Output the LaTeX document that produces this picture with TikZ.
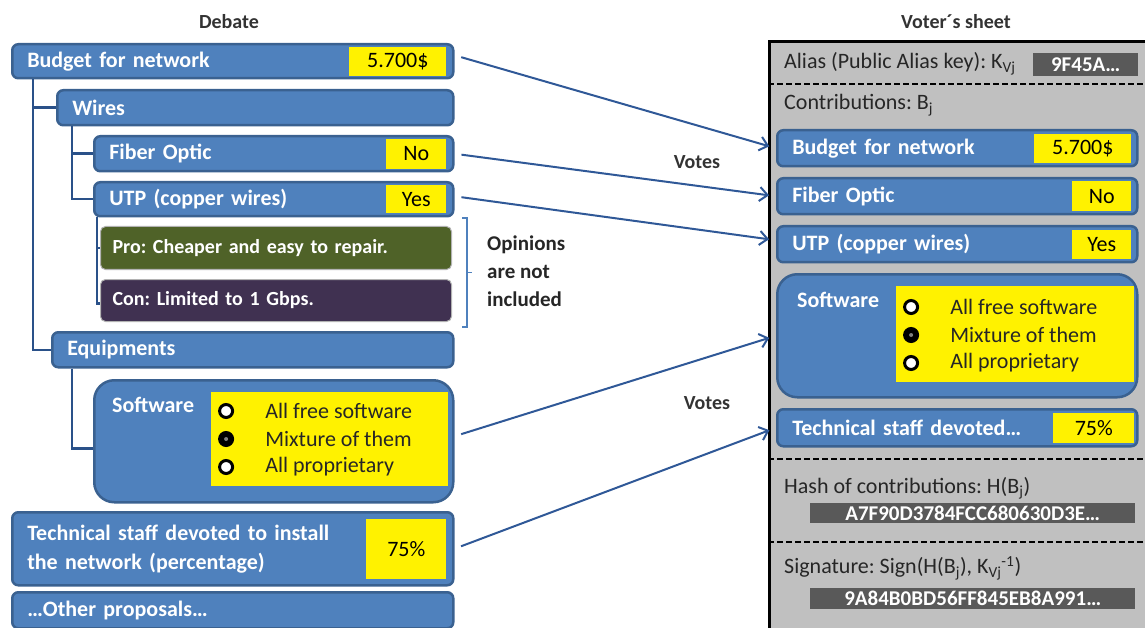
\documentclass[tikz,border=0pt]{standalone}
\usepackage{fontspec}
\setmainfont{Carlito}
\usetikzlibrary{positioning,arrows.meta,calc}
\frenchspacing

\definecolor{boxblue}{HTML}{4F81BD}
\definecolor{boxedge}{HTML}{3A6190}
\definecolor{treeblue}{HTML}{2A5189}
\definecolor{arrowblue}{HTML}{2F5897}
\definecolor{proolive}{HTML}{4F6228}
\definecolor{conplum}{HTML}{403151}
\definecolor{sheetgray}{HTML}{C0C0C0}
\definecolor{keygray}{HTML}{595959}

\begin{document}
\begin{tikzpicture}[
  x=1pt, y=-1pt,
  entry/.style={draw=boxedge, fill=boxblue, line width=2.5pt, rounded corners=6pt,
                text=white, font=\fontsize{22}{26}\selectfont\bfseries, align=left,
                anchor=north west, inner xsep=15pt, inner ysep=0pt, text width=#1},
  opinion/.style={entry=#1, draw=gray!60, line width=1pt, rounded corners=5pt,
                  font=\fontsize{20}{24}\selectfont\bfseries, inner xsep=12pt},
  answer/.style={fill=yellow, text=black, font=\fontsize{22}{26}\selectfont,
                 anchor=east, inner sep=0pt},
  keybox/.style={fill=keygray, text=white, font=\fontsize{21}{24}\selectfont\bfseries,
                 anchor=north west, inner sep=0pt},
  radio/.style={circle, draw=black, line width=3pt, fill=white, minimum size=13pt, inner sep=0pt},
  pick/.style={radio, fill=black,
               path picture={\fill[gray] (path picture bounding box.center) circle (2pt);}},
  txt/.style={font=\fontsize{22}{26}\selectfont, text=black!85, anchor=west, inner sep=0pt},
  head/.style={font=\fontsize{20}{24}\selectfont\bfseries, text=black!80},
  branch/.style={draw=treeblue, line width=2.5pt},
  brace/.style={draw=boxblue, line width=1.2pt},
  divider/.style={draw=black, line width=1.5pt, dash pattern=on 6pt off 3pt},
  arr/.style={draw=arrowblue, line width=2pt, -{Straight Barb[length=8pt,width=14pt]},
              shorten <=7pt, shorten >=7pt}
]
\useasboundingbox (0,0) rectangle (1145,628);

% debate side
\node[head] (debate) at (229,22) {Debate};
\node[entry=411pt, minimum height=34pt] (budget) at (11,43) {Budget for network};
\node[entry=366pt, minimum height=35pt] (wires) at (56,89) {Wires};
\node[entry=329pt, minimum height=35pt] (fiber) at (93,135) {Fiber Optic};
\node[entry=329pt, minimum height=34pt] (utp) at (93,181) {UTP (copper wires)};
\node[opinion=327pt, fill=proolive, minimum height=43pt] (pro) at (100,226) {Pro: Cheaper and easy to repair.};
\node[opinion=327pt, fill=conplum, minimum height=42pt] (con) at (100,279) {Con: Limited to 1 Gbps.};
\node[entry=371pt, minimum height=35pt] (equip) at (51,331) {Equipments};
\node[entry=329pt, minimum height=122pt, rounded corners=20pt] (soft) at (93,379) {};
\node[entry=411pt, minimum height=73pt, font=\fontsize{22}{29}\selectfont\bfseries] (tech) at (11,511)
  {Technical staff devoted to install\\the network (percentage)};
\node[entry=411pt, minimum height=36pt] (other) at (11,591) {\dots Other proposals\dots};

\node[answer, minimum width=97pt, minimum height=29pt] (budgetv) at ([xshift=-8pt]budget.east) {5.700\$};
\node[answer, minimum width=60pt, minimum height=30pt] (fiberv) at ([xshift=-8pt]fiber.east) {No};
\node[answer, minimum width=60pt, minimum height=28pt] (utpv) at ([xshift=-8pt]utp.east) {Yes};
\node[answer, minimum width=80pt, minimum height=60pt] (techv) at ([xshift=-8pt]tech.east) {75\%};

\node[txt, text=white, font=\fontsize{22}{26}\selectfont\bfseries] (softname)
  at ([xshift=19pt,yshift=-26pt]soft.north west) {Software};
\node[fill=yellow, anchor=north east, minimum width=237pt, minimum height=94pt, inner sep=0pt] (softv)
  at ([xshift=-6pt,yshift=-13pt]soft.north east) {};
\foreach \i/\kind/\label in {1/radio/All free software, 2/pick/Mixture of them, 3/radio/All proprietary} {
  \node[\kind] (softr\i) at ([xshift=15pt,yshift={-19pt-28pt*(\i-1)}]softv.north west) {};
  \node[txt, right=31pt of softr\i] (softo\i) {\label};
}

\draw[branch] ([xshift=22pt]budget.south west) |- (wires.west);
\draw[branch] ([xshift=22pt]budget.south west) |- (equip.west);
\draw[branch] ([xshift=16pt]wires.south west) |- (fiber.west);
\draw[branch] ([xshift=16pt]wires.south west) |- (utp.west);
\draw[branch] ([xshift=4pt]utp.south west) |- (pro.west);
\draw[branch] ([xshift=4pt]utp.south west) |- ([yshift=-3pt]con.west);
\draw[branch] ([xshift=21pt]equip.south west) |- ([yshift=-7pt]soft.west);

\coordinate (brtop) at (462,218);
\coordinate (brbot) at (462,327);
\draw[brace] (brtop) -- ++(5,0) -- ([xshift=5pt]brbot) -- (brbot);
\draw[brace] ($(brtop)!0.5!(brbot)+(5,0)$) -- ++(5,0);
\node[txt, align=left, font=\fontsize{21}{28}\selectfont\bfseries, text=black!85] (opinions)
  at (487,271) {Opinions\\are not\\included};

% voter's sheet
\node[head] (sheettitle) at (956,22) {Voter´s sheet};
\node[draw=black, line width=3pt, fill=sheetgray, anchor=north west, minimum width=400pt,
      minimum height=600pt, inner sep=0pt] (sheet) at (768,40) {};

\node[txt] (alias) at (784,64) {Alias (Public Alias key): K\textsubscript{Vj}};
\node[keybox, minimum width=105pt, minimum height=23pt] (aliasv) at (1033,53) {9F45A\dots};
\draw[divider] (sheet.west |- 0,84) -- (sheet.east |- 0,84);
\node[txt] (contrib) at (784,105) {Contributions: B\textsubscript{j}};

\node[entry=330pt, minimum height=36pt] (rbudget) at (776,129) {Budget for network};
\node[entry=330pt, minimum height=36pt] (rfiber) at (776,177) {Fiber Optic};
\node[entry=330pt, minimum height=36pt] (rutp) at (776,225) {UTP (copper wires)};
\node[entry=330pt, minimum height=123pt, rounded corners=20pt] (rsoft) at (776,273) {};
\node[entry=330pt, minimum height=37pt] (rtech) at (776,408) {Technical staff devoted\dots};

\node[answer, minimum width=97pt, minimum height=29pt] (rbudgetv) at ([xshift=-7pt]rbudget.east) {5.700\$};
\node[answer, minimum width=59pt, minimum height=30pt] (rfiberv) at ([xshift=-7pt]rfiber.east) {No};
\node[answer, minimum width=59pt, minimum height=29pt] (rutpv) at ([xshift=-7pt]rutp.east) {Yes};
\node[answer, minimum width=81pt, minimum height=30pt] (rtechv) at ([xshift=-4pt]rtech.east) {75\%};

\node[txt, text=white, font=\fontsize{22}{26}\selectfont\bfseries] (rsoftname)
  at ([xshift=21pt,yshift=-27pt]rsoft.north west) {Software};
\node[fill=yellow, anchor=north east, minimum width=238pt, minimum height=96pt, inner sep=0pt] (rsoftv)
  at ([xshift=-4pt,yshift=-13pt]rsoft.north east) {};
\foreach \i/\kind/\label in {1/radio/All free software, 2/pick/Mixture of them, 3/radio/All proprietary} {
  \node[\kind] (rsoftr\i) at ([xshift=15pt,yshift={-21pt-28pt*(\i-1)}]rsoftv.north west) {};
  \node[txt, right=31pt of rsoftr\i] (rsofto\i) {\label};
}

\draw[divider] (sheet.west |- 0,459) -- (sheet.east |- 0,459);
\node[txt] (hash) at (784,488) {Hash of contributions: H(B\textsubscript{j})};
\node[keybox, minimum width=325pt, minimum height=20pt] (hashv) at (810,503) {A7F90D3784FCC680630D3E\dots};
\draw[divider] (sheet.west |- 0,542) -- (sheet.east |- 0,542);
\node[txt] (sign) at (784,568) {Signature: Sign(H(B\textsubscript{j}), K\textsubscript{Vj}\textsuperscript{-1})};
\node[keybox, minimum width=325pt, minimum height=21pt] (signv) at (810,588) {9A84B0BD56FF845EB8A991\dots};

% votes
\draw[arr] ([yshift=6pt]budget.east) -- (rbudget.west);
\draw[arr] (fiber.east) -- (rfiber.west);
\draw[arr] ([yshift=3pt]utp.east) -- ([yshift=4pt]rutp.west);
\draw[arr] ([yshift=5pt]soft.east) -- (rsoft.west);
\draw[arr] (tech.east) -- (rtech.west);
\node[head] (votes1) at (697,162) {Votes};
\node[head] (votes2) at (707,403) {Votes};
\end{tikzpicture}
\end{document}
